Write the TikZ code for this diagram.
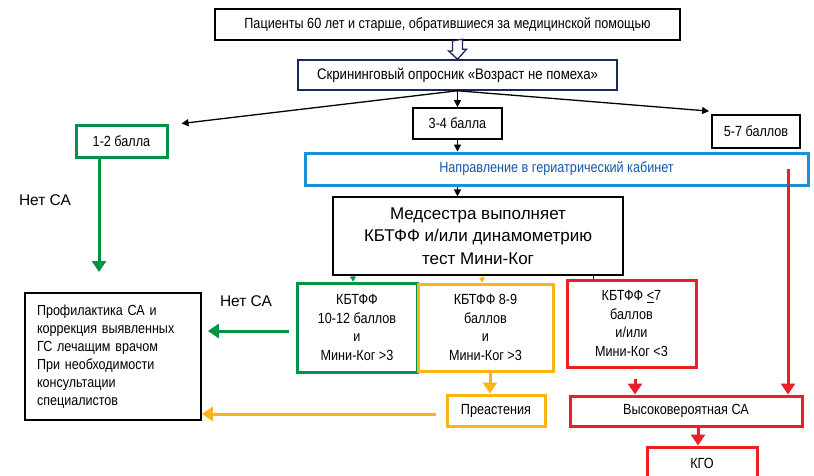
\documentclass[tikz,border=0pt]{standalone}
\usepackage{fontspec}
\setmainfont{Liberation Sans}
\newfontfamily\narrowsans[FakeStretch=0.86]{Liberation Sans}
\usetikzlibrary{arrows.meta}
\definecolor{fgreen}{RGB}{0,146,69}
\definecolor{fyellow}{RGB}{252,180,22}
\definecolor{fred}{RGB}{236,30,40}
\definecolor{fblue}{RGB}{24,146,214}
\definecolor{fbluetext}{RGB}{20,88,168}
\definecolor{fnavy}{RGB}{28,40,92}
\begin{document}
\begin{tikzpicture}[x=1pt,y=-1pt,
  box/.style={draw, inner sep=0pt, align=center,
    font=\narrowsans\fontsize{14.7}{18.5}\selectfont},
  blackbox/.style={box, line width=1.8pt},
  greenbox/.style={box, draw=fgreen, line width=3pt},
  yellowbox/.style={box, draw=fyellow, line width=3pt},
  redbox/.style={box, draw=fred, line width=3pt},
  blackarrow/.style={-{Triangle[length=7pt,width=7pt]}, line width=1.3pt},
  greenarrow/.style={draw=fgreen, fill=fgreen, line width=3pt, -{Triangle[length=11pt,width=14pt]}},
  yellowarrow/.style={draw=fyellow, fill=fyellow, line width=3pt, -{Triangle[length=11pt,width=14pt]}},
  redarrow/.style={draw=fred, fill=fred, line width=3pt, -{Triangle[length=11pt,width=14pt]}},
  smallgreen/.style={draw=fgreen, fill=fgreen, line width=0.8pt, -{Triangle[length=5pt,width=6pt]}},
  smallyellow/.style={draw=fyellow, fill=fyellow, line width=0.8pt, -{Triangle[length=5pt,width=6pt]}},
  note/.style={font=\fontsize{15.5}{18}\selectfont}
]
\useasboundingbox (0,0) rectangle (814,475);
\fill[white] (0,0) rectangle (814,475);
\clip (0,0) rectangle (814,475);

% top row
\node[blackbox, minimum width=465pt, minimum height=31pt] (top) at (447.5,24.5)
  {Пациенты 60 лет и старше, обратившиеся за медицинской помощью};
\node[box, draw=fnavy, line width=1.5pt, minimum width=319pt, minimum height=30pt,
  font=\narrowsans\fontsize{15.3}{18}\selectfont] (screen) at (457.5,75)
  {Скрининговый опросник «Возраст не помеха»};

% hollow arrow between the two upper boxes
\filldraw[fill=white, draw=fnavy, line width=1.3pt]
  ([xshift=-5pt]top.south -| screen.north) -- ++(0,10) -- ++(-4,0) -- (screen.north)
  -- ++(9,-10) -- ++(-4,0) -- ++(0,-10) -- cycle;

% score groups
\node[greenbox, minimum width=91pt, minimum height=32pt] (b12) at (121.5,141) {1-2 балла};
\node[blackbox, minimum width=89pt, minimum height=31pt] (b34) at (457.5,123.5) {3-4 балла};
\node[blackbox, minimum width=88pt, minimum height=33pt] (b57) at (756,131.5) {5-7 баллов};

\draw[blackarrow] (screen.south) -- ([shift={(13pt,0pt)}]b12.north east);
\draw[blackarrow] (screen.south) -- ([shift={(-2pt,3pt)}]b57.north west);
\draw[blackarrow] (screen.south) -- (b34.north);

% referral
\node[box, draw=fblue, line width=3pt, text=fbluetext, minimum width=503pt, minimum height=32pt] (blue) at (556.5,169)
  {Направление в гериатрический кабинет};
\draw[blackarrow] (b34.south) -- (b34.south |- blue.north);

\node[draw, line width=1.2pt, inner sep=0pt, align=center, minimum width=290pt, minimum height=78pt,
  font=\fontsize{17}{22.5}\selectfont] (nurse) at (478,236)
  {Медсестра выполняет\\КБТФФ и/или динамометрию\\тест Мини-Ког};
\draw[blackarrow] (blue.south -| b34.south) -- (nurse.north -| b34.south);

% left branch
\coordinate (gend) at (99,272);
\draw[greenarrow] (b12.south -| gend) -- (gend);
\node[note] (nosa1) at (45,200) {Нет СА};

% results of the assessment
\node[draw, line width=1.8pt, inner sep=0pt, inner xsep=12pt, align=left, text width=152pt,
  minimum height=127pt, font=\narrowsans\fontsize{14.6}{18}\selectfont] (prof) at (113,356.5)
  {Профилактика СА и\\коррекция выявленных\\ГС лечащим врачом\\При необходимости\\консультации\\специалистов};

\node[greenbox, minimum width=120pt, minimum height=89pt] (g1012) at (357,327.5)
  {КБТФФ\\10-12 баллов\\и\\Мини-Ког >3};
\node[yellowbox, minimum width=135pt, minimum height=87pt] (y89) at (485.5,327.5)
  {КБТФФ 8-9\\баллов\\и\\Мини-Ког >3};
\node[redbox, minimum width=129pt, minimum height=87pt] (r7) at (631.5,323.5)
  {КБТФФ \underline{<}7\\баллов\\и/или\\Мини-Ког <3};

\draw[smallgreen] (nurse.south -| 353,0) -- (g1012.north -| 353,0);
\draw[smallyellow] (nurse.south -| 482,0) -- (y89.north -| 482,0);
\draw[line width=0.8pt] (nurse.south -| 593,0) -- (r7.north -| 593,0);

\node[note] (nosa2) at (246,301) {Нет СА};
\draw[greenarrow, shorten <=7pt, shorten >=6pt] (g1012.west |- 0,331) -- (prof.east |- 0,331);

\node[yellowbox, minimum width=98pt, minimum height=31pt] (pre) at (496,410.5) {Преастения};
\draw[yellowarrow] (y89.south -| 490,0) -- (pre.north -| 490,0);
\draw[yellowarrow, shorten <=10pt] (pre.west |- 0,414) -- (prof.east |- 0,414);

\node[redbox, minimum width=232pt, minimum height=30pt] (high) at (686,411) {Высоковероятная СА};
\draw[redarrow, shorten <=10pt] (r7.south -| 635,0) -- (high.north -| 635,0);
\draw[redarrow] (blue.center -| 788,0) -- (high.north -| 788,0);

\node[redbox, minimum width=110pt, minimum height=50pt, text depth=0pt] (kgo) at (702,472) {\raisebox{18pt}{КГО}};
\draw[redarrow] (high.south -| 698,0) -- (kgo.north -| 698,0);
\end{tikzpicture}
\end{document}
